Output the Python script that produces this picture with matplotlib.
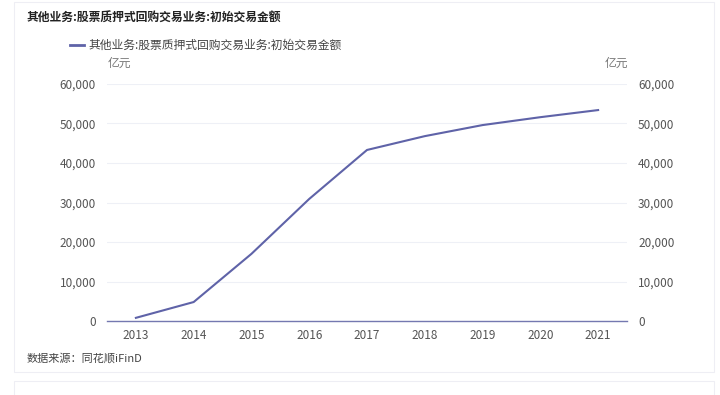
import matplotlib
matplotlib.use('Agg')
from matplotlib import pyplot as plt
from matplotlib.ticker import FuncFormatter
from matplotlib.patches import Rectangle

plt.rcParams['font.family'] = ['Noto Sans CJK SC', 'DejaVu Sans']

# data (亿元)
years = ['2013', '2014', '2015', '2016', '2017', '2018', '2019', '2020', '2021']
amount = [800, 4800, 17000, 30900, 43300, 46800, 49600, 51600, 53400]
yticks = [0, 10000, 20000, 30000, 40000, 50000, 60000]

title = '其他业务:股票质押式回购交易业务:初始交易金额'
source = '数据来源：同花顺iFinD'

line_color = '#5f63a8'
tick_color = '#555555'

fig = plt.figure(figsize=(7.2, 3.95), dpi=100)

# card background borders
fig.patches.append(Rectangle((14/720, 1-372/395), 700/720, 370/395, transform=fig.transFigure,
                             fill=False, edgecolor='#eeeef4', linewidth=0.8))
fig.patches.append(Rectangle((14/720, -0.02), 700/720, 0.02+(395-381)/395, transform=fig.transFigure,
                             fill=False, edgecolor='#eeeef4', linewidth=0.8))

ax = fig.add_axes([107/720, 1-321/395, 520/720, (321-84)/395])
x = list(range(len(years)))
ax.plot(x, amount, color=line_color, linewidth=1.5)
ax.set_xlim(-0.5, len(years)-0.5)
ax.set_ylim(0, 60000)
ax.set_xticks(x)
ax.set_xticklabels(years)
ax.set_yticks(yticks)
fmt = FuncFormatter(lambda v, p: f'{int(v):,}')
ax.yaxis.set_major_formatter(fmt)
ax.grid(axis='y', color='#eef0f6', linewidth=0.8)
ax.set_axisbelow(True)
for s in ['top', 'left', 'right']:
    ax.spines[s].set_visible(False)
ax.spines['bottom'].set_color('#7478b0')
ax.spines['bottom'].set_linewidth(1.0)
ax.tick_params(axis='both', length=0, labelsize=8.5, colors=tick_color)
ax.tick_params(axis='x', pad=6)
ax.tick_params(axis='y', pad=8)

ax2 = ax.twinx()
ax2.set_ylim(0, 60000)
ax2.set_yticks(yticks)
ax2.yaxis.set_major_formatter(fmt)
for s in ['top', 'left', 'right', 'bottom']:
    ax2.spines[s].set_visible(False)
ax2.tick_params(axis='y', length=0, labelsize=8.5, colors=tick_color, pad=8)

fig.text(27/720, 1-18/395, title, fontsize=8.5, fontweight='bold', color='#222222', va='center')
fig.lines.append(plt.Line2D([70/720, 84/720], [1-45/395, 1-45/395], transform=fig.transFigure,
                            color=line_color, linewidth=2))
fig.text(88/720, 1-45/395, title, fontsize=8.5, color='#444444', va='center')
fig.text(108/720, 1-63/395, '亿元', fontsize=8.5, color='#777777', va='center')
fig.text(628/720, 1-63/395, '亿元', fontsize=8.5, color='#777777', va='center', ha='right')
fig.text(27/720, 1-358/395, source, fontsize=8, color='#444444', va='center')

fig.savefig('out.png', dpi=100)
